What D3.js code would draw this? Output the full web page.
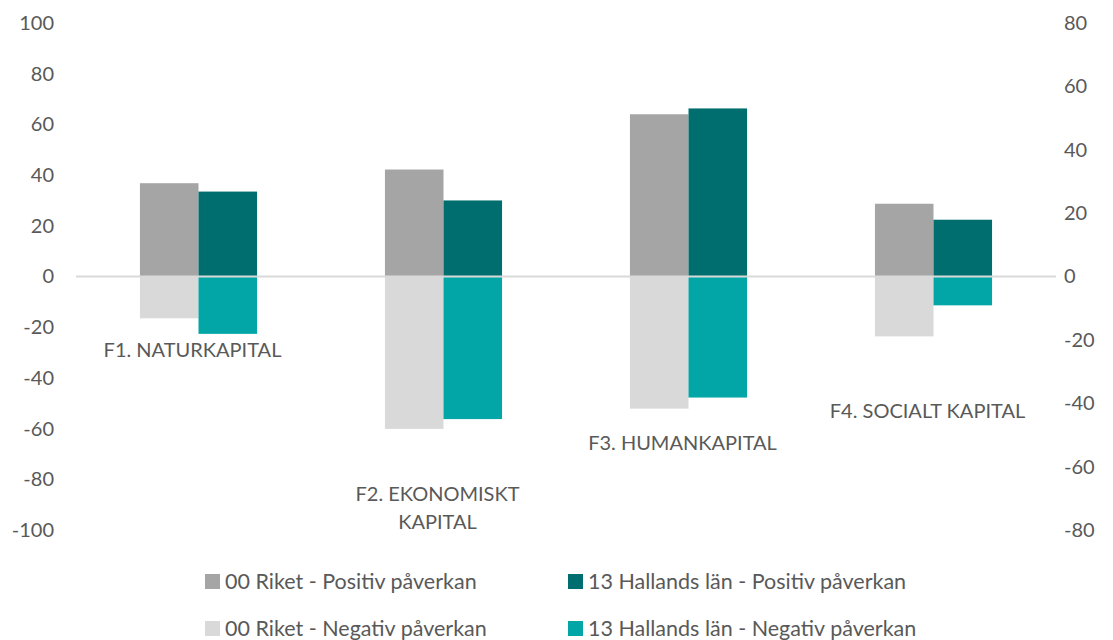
<!DOCTYPE html>
<html>
<head>
<meta charset="utf-8">
<script src="https://cdn.jsdelivr.net/npm/d3@7"></script>
<style>
  body { margin: 0; background: #fff; }
  text { font-family: Lato, "Open Sans", sans-serif; fill: #595959; }
</style>
</head>
<body>
<svg id="chart" width="1113" height="640"></svg>
<script>
var categories = ["F1", "F2", "F3", "F4"];
var categoryLabels = [["F1. NATURKAPITAL"], ["F2. EKONOMISKT", "KAPITAL"], ["F3. HUMANKAPITAL"], ["F4. SOCIALT KAPITAL"]];
// where each category label sits, in left-axis units
var labelValue = [-29, -91.5, -65.5, -53];

// primary (left) axis: positive impact
var riketPos = [36.8, 42.2, 64.0, 28.7];
var hallandPos = [33.5, 30.0, 66.3, 22.4];
// secondary (right) axis: negative impact
var riketNeg = [-13.2, -48.1, -41.7, -18.9];
var hallandNeg = [-18.1, -45.0, -38.2, -9.1];

var leftTicks = [-100, -80, -60, -40, -20, 0, 20, 40, 60, 80, 100];
var rightTicks = [-80, -60, -40, -20, 0, 20, 40, 60, 80];

var series = [
  { name: "00 Riket - Positiv påverkan", values: riketPos, sub: "riket", axis: "left", color: "#a5a5a5" },
  { name: "13 Hallands län - Positiv påverkan", values: hallandPos, sub: "halland", axis: "left", color: "#006e6e" },
  { name: "00 Riket - Negativ påverkan", values: riketNeg, sub: "riket", axis: "right", color: "#d9d9d9" },
  { name: "13 Hallands län - Negativ påverkan", values: hallandNeg, sub: "halland", axis: "right", color: "#02a6a6" }
];

var svg = d3.select("#chart");

var x0 = d3.scaleBand().domain(categories).range([76, 1056]).paddingInner(0.522).paddingOuter(0.261);
var x1 = d3.scaleBand().domain(["riket", "halland"]).range([0, x0.bandwidth()]);
var yLeft = d3.scaleLinear().domain([-100, 100]).range([530, 23]);
var yRight = d3.scaleLinear().domain([-80, 80]).range([530, 23]);

var plain = function(d) { return String(d); };

// axes (labels only)
var gl = svg.append("g").attr("transform", "translate(54,0)")
  .call(d3.axisLeft(yLeft).tickValues(leftTicks).tickFormat(plain).tickSize(0).tickPadding(0));
gl.select(".domain").remove();
gl.selectAll("text").style("font-size", "20px").style("font-family", null).attr("fill", "#595959");

var gr = svg.append("g").attr("transform", "translate(1064,0)")
  .call(d3.axisRight(yRight).tickValues(rightTicks).tickFormat(plain).tickSize(0).tickPadding(0));
gr.select(".domain").remove();
gr.selectAll("text").style("font-size", "20px").style("font-family", null).attr("fill", "#595959");

// bars
series.forEach(function(s) {
  var y = s.axis == "left" ? yLeft : yRight;
  svg.append("g").selectAll("rect")
    .data(s.values)
    .enter().append("rect")
    .attr("x", function(d, i) { return x0(categories[i]) + x1(s.sub); })
    .attr("width", x1.bandwidth())
    .attr("y", function(d) { return y(Math.max(0, d)); })
    .attr("height", function(d) { return Math.abs(y(d) - y(0)); })
    .attr("fill", s.color);
});

// zero line
svg.append("line")
  .attr("x1", 76).attr("x2", 1056)
  .attr("y1", yLeft(0)).attr("y2", yLeft(0))
  .attr("stroke", "#d9d9d9").attr("stroke-width", 2);

// category labels
var lab = svg.append("g").selectAll("text")
  .data(categoryLabels)
  .enter().append("text")
  .attr("text-anchor", "middle")
  .style("font-size", "20px")
  .attr("transform", function(d, i) {
    return "translate(" + (x0(categories[i]) + x0.bandwidth() / 2 - 6) + "," + yLeft(labelValue[i]) + ")";
  });
lab.each(function(lines) {
  var t = d3.select(this);
  var off = -(lines.length - 1) * 14;
  lines.forEach(function(l, k) {
    t.append("tspan").attr("x", 0).attr("y", off + k * 28).attr("dy", "0.35em").text(l);
  });
});

// legend
var legendPos = [[205, 581], [568, 581], [205, 628], [568, 628]];
var leg = svg.append("g").selectAll("g")
  .data(series)
  .enter().append("g")
  .attr("transform", function(d, i) { return "translate(" + legendPos[i][0] + "," + legendPos[i][1] + ")"; });
leg.append("rect").attr("x", 0).attr("y", -7).attr("width", 15).attr("height", 15)
  .attr("fill", function(d) { return d.color; });
leg.append("text").attr("x", 20).attr("dy", "0.35em").style("font-size", "21.5px")
  .text(function(d) { return d.name; });
</script>
</body>
</html>
